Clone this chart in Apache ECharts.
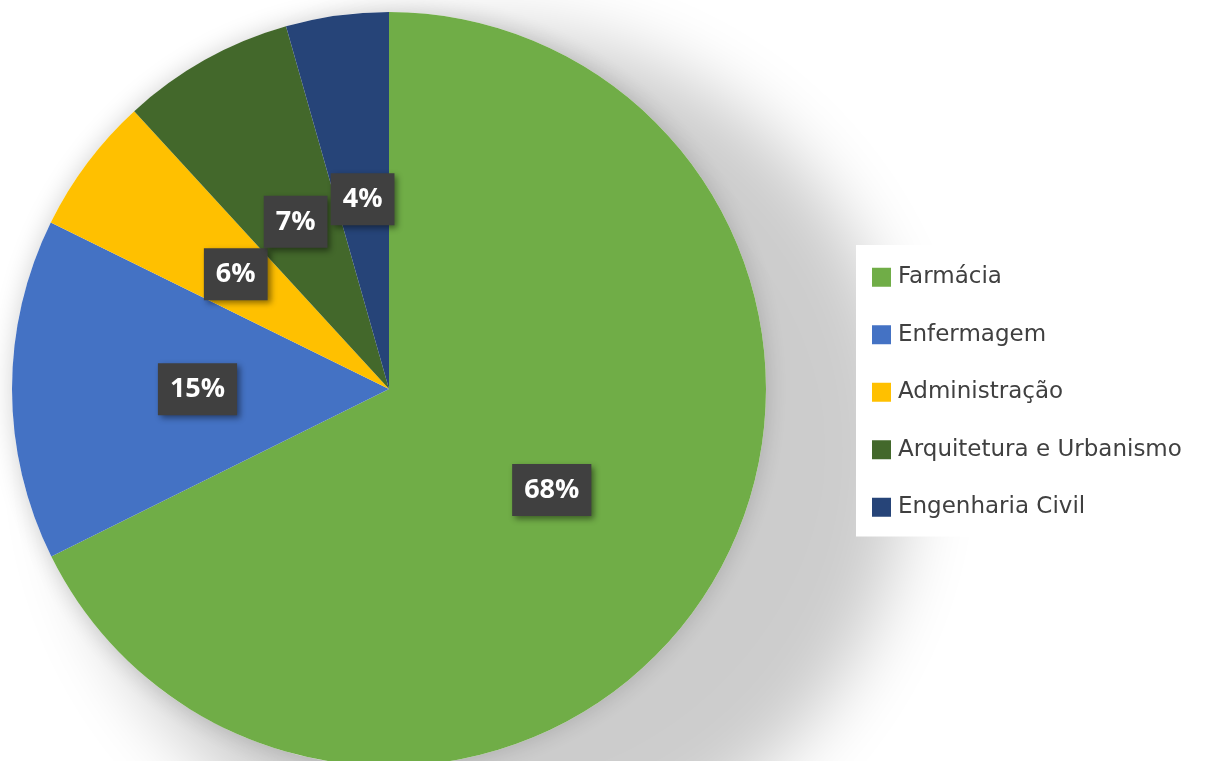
<!DOCTYPE html>
<html>
<head>
<meta charset="utf-8">
<script src="https://cdn.jsdelivr.net/npm/echarts@6/dist/echarts.min.js"></script>
<style>
  html, body { margin: 0; padding: 0; background: #fff; }
  #chart { width: 1211px; height: 761px; }
</style>
</head>
<body>
<div id="chart"></div>
<script>
const categories = ['Farmácia', 'Enfermagem', 'Administração', 'Arquitetura e Urbanismo', 'Engenharia Civil'];
const values = [67.6, 14.6, 5.9, 7.4, 4.4];
const colors = ['#70ad47', '#4472c4', '#ffc000', '#43682b', '#264478'];

const chart = echarts.init(document.getElementById('chart'));

const center = [389, 389];
const radius = 377;
// the big grey shadow is pushed back from far off-canvas so only its blur shows
const far = 3000;

chart.setOption({
  animation: false,
  color: colors,
  graphic: [{
    type: 'circle',
    silent: true,
    z: -10,
    shape: { cx: 490 - far, cy: 450, r: 420 },
    style: {
      fill: '#000',
      shadowColor: 'rgba(0,0,0,0.2)',
      shadowBlur: 70,
      shadowOffsetX: far,
      shadowOffsetY: 0
    }
  }],
  legend: {
    orient: 'vertical',
    left: 856,
    top: 245,
    backgroundColor: '#fff',
    padding: [20, 12, 17, 16],
    itemWidth: 19,
    itemHeight: 19,
    itemGap: 33,
    icon: 'rect',
    data: categories,
    textStyle: { fontFamily: 'DejaVu Sans', fontSize: 23, lineHeight: 24.5, color: '#404040', padding: [0, 0, 0, 2] }
  },
  series: [
    {
      type: 'pie',
      silent: true,
      center: center,
      radius: radius,
      z: 1,
      label: { show: false },
      labelLine: { show: false },
      legendHoverLink: false,
      data: [{
        value: 1,
        name: '_glow',
        itemStyle: {
          color: '#fff',
          shadowColor: 'rgba(0,0,0,0.18)',
          shadowBlur: 25
        }
      }]
    },
    {
      type: 'pie',
      center: center,
      radius: radius,
      z: 2,
      startAngle: 90,
      clockwise: true,
      avoidLabelOverlap: false,
      percentPrecision: 0,
      data: categories.map((c, i) => ({ name: c, value: values[i] })),
      itemStyle: { borderWidth: 0 },
      label: {
        show: true,
        position: 'inside',
        formatter: '{d}%',
        fontFamily: 'Open Sans',
        fontWeight: 'bold',
        fontSize: 27,
        color: '#fff',
        backgroundColor: '#404040',
        padding: [13, 12, 12, 12],
        shadowColor: 'rgba(0,0,0,0.45)',
        shadowBlur: 6,
        shadowOffsetX: 3,
        shadowOffsetY: 3
      },
      labelLine: { show: false }
    }
  ]
});
</script>
</body>
</html>
